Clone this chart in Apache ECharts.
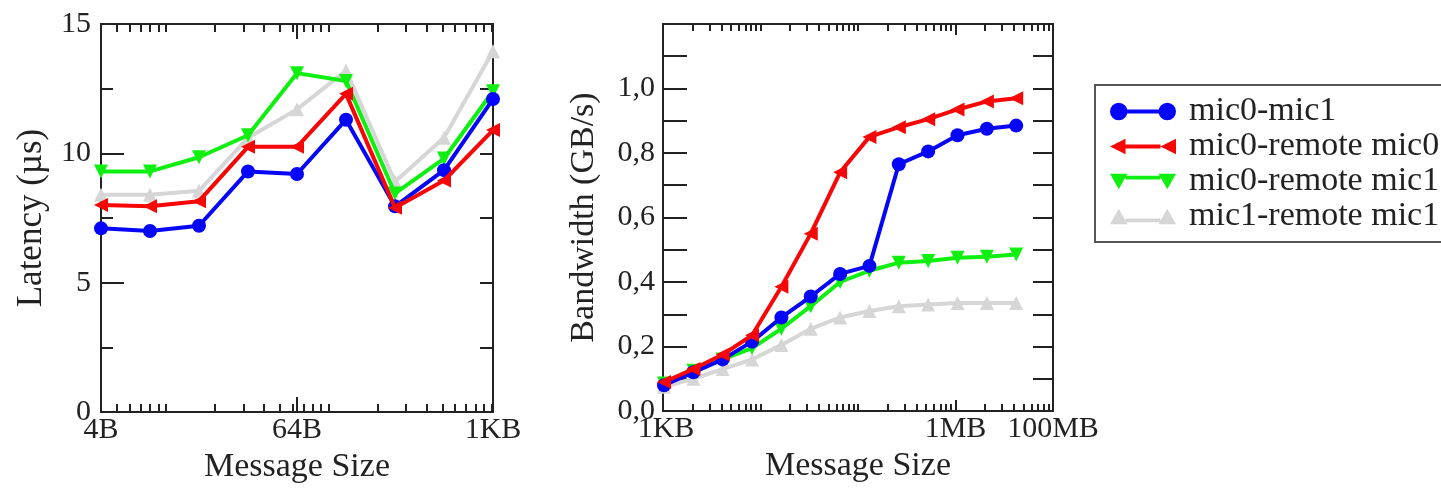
<!DOCTYPE html>
<html><head><meta charset="utf-8">
<script src="https://cdn.jsdelivr.net/npm/echarts@6/dist/echarts.min.js"></script>
<style>html,body{margin:0;padding:0;background:#fff}#c{width:1441px;height:492px}</style>
</head><body><div id="c"></div>
<script>
// ---------- data ----------
const seriesNames = ['mic0-mic1', 'mic0-remote mic0', 'mic0-remote mic1', 'mic1-remote mic1'];

// Latency chart (µs) vs message size in bytes
const latSizes = [4, 8, 16, 32, 64, 128, 256, 512, 1024];
const latMic0Mic1       = [7.1, 7.0, 7.2, 9.3, 9.2, 11.3, 7.95, 9.35, 12.1];
const latMic0RemoteMic0 = [8.0, 7.95, 8.15, 10.25, 10.25, 12.3, 7.9, 8.95, 10.9];
const latMic0RemoteMic1 = [9.3, 9.3, 9.85, 10.7, 13.1, 12.8, 8.45, 9.8, 12.4];
const latMic1RemoteMic1 = [8.4, 8.4, 8.55, 10.6, 11.7, 13.2, 8.9, 10.6, 13.95];

// Bandwidth chart (GB/s) vs message size in bytes
const bwSizes = [1024, 2048, 4096, 8192, 16384, 32768, 65536, 131072, 262144, 524288, 1048576, 2097152, 4194304];
const bwMic0Mic1       = [0.08, 0.12, 0.16, 0.215, 0.29, 0.355, 0.425, 0.45, 0.765, 0.805, 0.855, 0.875, 0.885];
const bwMic0RemoteMic0 = [0.09, 0.13, 0.175, 0.235, 0.385, 0.55, 0.74, 0.85, 0.88, 0.905, 0.935, 0.96, 0.97];
const bwMic0RemoteMic1 = [0.085, 0.125, 0.16, 0.195, 0.255, 0.325, 0.40, 0.435, 0.46, 0.465, 0.475, 0.478, 0.485];
const bwMic1RemoteMic1 = [0.075, 0.10, 0.13, 0.16, 0.205, 0.255, 0.29, 0.31, 0.325, 0.33, 0.335, 0.335, 0.335];

// tick labels
const latTickValues = [4, 64, 1024];
const latTickLabels = ['4B', '64B', '1KB'];
const latMinorTicks = [5,6,7,8,9,10,20,30,40,50,60,70,80,90,100,200,300,400,500,600,700,800,900,1000];
const bwTickValues = [1000, 1000000, 10000000];
const bwTickLabels = ['1KB', '1MB', '100MB'];
const bwMinorTicks = [2e3,3e3,4e3,5e3,6e3,7e3,8e3,9e3,1e4,2e4,3e4,4e4,5e4,6e4,7e4,8e4,9e4,1e5,2e5,3e5,4e5,5e5,6e5,7e5,8e5,9e5,2e6,3e6,4e6,5e6,6e6,7e6,8e6,9e6];
const bwMajorTicks = [1000000];

// ---------- styling ----------
const FONT = "'Liberation Serif','DejaVu Serif',serif";
const TXT = '#222';
const AX = '#222';
const colors = ['#0505f8', '#f80505', '#10f010', '#d6d6d6'];
const symbols = ['circle', 'triangle', 'triangle', 'triangle'];
const rotations = [0, 90, 180, 0];
const zs = [4, 5, 3, 2];

const legendIcons = [
  'path://M0,9 A9,9 0 1 1 18,9 A9,9 0 1 1 0,9 Z M17.5,7 L50.5,7 L50.5,11 L17.5,11 Z M50,9 A9,9 0 1 1 68,9 A9,9 0 1 1 50,9 Z',
  'path://M0,9 L16,1 L16,17 Z M16,7 L52,7 L52,11 L16,11 Z M52,9 L68,1 L68,17 Z',
  'path://M0,1 L18,1 L9,17 Z M16,3 L52,3 L52,7 L16,7 Z M50,1 L68,1 L59,17 Z',
  'path://M0,17 L9,1 L18,17 Z M16,11 L52,11 L52,15 L16,15 Z M50,17 L59,1 L68,17 Z'
];

function labelMap(values, labels) {
  const m = {};
  values.forEach((v, i) => { m[v] = labels[i]; });
  return m;
}
const latLab = labelMap(latTickValues, latTickLabels);
const bwLab = labelMap(bwTickValues, bwTickLabels);
const richBase = {fontSize: 30, fontFamily: FONT, color: TXT};
const rich = {
  n: Object.assign({}, richBase),
  l6: Object.assign({padding: [0, 0, 0, 6]}, richBase)
};

function xAx(grid, base, min, max, pos, opts) {
  return Object.assign({
    type: 'log', logBase: base, gridIndex: grid, min: min, max: max, position: pos,
    axisLine: {show: true, lineStyle: {color: AX, width: 2}},
    axisTick: {show: false},
    axisLabel: {show: false},
    splitLine: {show: false}, minorTick: {show: false}, minorSplitLine: {show: false}
  }, opts);
}
function ticks(vals, len) {
  return {show: true, inside: true, length: len, customValues: vals, lineStyle: {color: AX, width: 2}};
}

const xAxes = [
  // left chart
  xAx(0, 2, 4, 1024, 'bottom', {
    axisTick: ticks([64], 15),
    nameLocation: 'middle', name: 'Message Size', nameGap: 29,
    nameTextStyle: {fontSize: 34, fontFamily: FONT, color: TXT},
    axisLabel: {show: true, customValues: latTickValues, margin: 3,
      fontSize: 30, fontFamily: FONT, color: TXT, showMinLabel: true, showMaxLabel: true,
      formatter: v => latLab[Math.round(v)] || ''}
  }),
  xAx(0, 10, 4, 1024, 'bottom', {axisLine: {show: false}, axisTick: ticks(latMinorTicks, 8)}),
  xAx(0, 2, 4, 1024, 'top', {axisTick: ticks([64], 15)}),
  xAx(0, 10, 4, 1024, 'top', {axisLine: {show: false}, axisTick: ticks(latMinorTicks, 8)}),
  // right chart
  xAx(1, 10, 1000, 10000000, 'bottom', {
    axisTick: ticks(bwMajorTicks, 11),
    nameLocation: 'middle', name: 'Message Size', nameGap: 29,
    nameTextStyle: {fontSize: 34, fontFamily: FONT, color: TXT},
    axisLabel: {show: true, customValues: bwTickValues, margin: 3,
      fontSize: 30, fontFamily: FONT, color: TXT, showMinLabel: true, showMaxLabel: true,
      formatter: v => { const t = bwLab[Math.round(v)]; return t ? '{' + (t === '1KB' ? 'l6' : 'n') + '|' + t + '}' : ''; },
      rich: rich}
  }),
  xAx(1, 10, 1000, 10000000, 'bottom', {axisLine: {show: false}, axisTick: ticks(bwMinorTicks, 7)}),
  xAx(1, 10, 1000, 10000000, 'top', {axisTick: ticks(bwMajorTicks, 11)}),
  xAx(1, 10, 1000, 10000000, 'top', {axisLine: {show: false}, axisTick: ticks(bwMinorTicks, 7)})
];

const yAxes = [
  {type: 'value', gridIndex: 0, position: 'left', min: 0, max: 15, interval: 5,
    axisLine: {show: true, lineStyle: {color: AX, width: 2}},
    axisTick: {show: true, inside: true, length: 23, lineStyle: {color: AX, width: 2}},
    minorTick: {show: true, splitNumber: 2, length: 12, lineStyle: {color: AX, width: 2}},
    splitLine: {show: false}, minorSplitLine: {show: false},
    axisLabel: {fontSize: 30, fontFamily: FONT, color: TXT, margin: 10},
    name: 'Latency (µs)', nameLocation: 'middle', nameGap: 52,
    nameTextStyle: {fontSize: 35, fontFamily: FONT, color: TXT}},
  {type: 'value', gridIndex: 0, position: 'right', min: 0, max: 15, interval: 2.5,
    axisLine: {show: true, lineStyle: {color: AX, width: 2}},
    axisTick: {show: true, inside: true, length: 13, lineStyle: {color: AX, width: 2}},
    splitLine: {show: false}, axisLabel: {show: false}},
  {type: 'value', gridIndex: 1, position: 'left', min: 0, max: 1.2, interval: 0.2,
    axisLine: {show: true, lineStyle: {color: AX, width: 2}},
    axisTick: {show: true, inside: true, length: 24, lineStyle: {color: AX, width: 2}},
    minorTick: {show: true, splitNumber: 2, length: 24, lineStyle: {color: AX, width: 2}},
    splitLine: {show: false}, minorSplitLine: {show: false},
    axisLabel: {fontSize: 30, fontFamily: FONT, color: TXT, margin: 8,
      formatter: v => v > 1.1 ? '' : v.toFixed(1).replace('.', ',')},
    name: 'Bandwidth (GB/s)', nameLocation: 'middle', nameGap: 62,
    nameTextStyle: {fontSize: 34, fontFamily: FONT, color: TXT}},
  {type: 'value', gridIndex: 1, position: 'right', min: 0, max: 1.2, interval: 0.2,
    axisLine: {show: true, lineStyle: {color: AX, width: 2}},
    axisTick: {show: true, inside: true, length: 20, lineStyle: {color: AX, width: 2}},
    minorTick: {show: true, splitNumber: 2, length: 20, lineStyle: {color: AX, width: 2}},
    splitLine: {show: false}, minorSplitLine: {show: false}, axisLabel: {show: false}}
];

function mk(i, sizes, vals, xi, yi) {
  return {
    name: seriesNames[i], type: 'line', xAxisIndex: xi, yAxisIndex: yi,
    data: sizes.map((s, k) => [s, vals[k]]),
    symbol: symbols[i], symbolRotate: rotations[i], symbolSize: 14,
    showSymbol: true, showAllSymbol: true, clip: false, z: zs[i],
    lineStyle: {color: colors[i], width: 4},
    itemStyle: {color: colors[i]},
    emphasis: {disabled: true}, animation: false
  };
}
const latData = [latMic0Mic1, latMic0RemoteMic0, latMic0RemoteMic1, latMic1RemoteMic1];
const bwData = [bwMic0Mic1, bwMic0RemoteMic0, bwMic0RemoteMic1, bwMic1RemoteMic1];
const series = [];
latData.forEach((d, i) => series.push(mk(i, latSizes, d, 0, 0)));
bwData.forEach((d, i) => series.push(mk(i, bwSizes, d, 4, 2)));

const chart = echarts.init(document.getElementById('c'), null, {renderer: 'canvas'});
chart.setOption({
  animation: false,
  backgroundColor: '#fff',
  grid: [
    {left: 101, top: 24, width: 392, height: 388},
    {left: 663, top: 24, width: 390, height: 387}
  ],
  xAxis: xAxes,
  yAxis: yAxes,
  legend: {
    data: seriesNames.map((n, i) => ({name: n, icon: legendIcons[i]})),
    orient: 'vertical', left: 1095, top: 85,
    padding: [9, 14, 8, 15], itemGap: 0, itemWidth: 66, itemHeight: 18,
    borderColor: '#555', borderWidth: 2, borderRadius: 0, backgroundColor: '#fff',
    textStyle: {fontSize: 34, fontFamily: FONT, color: TXT, lineHeight: 35, padding: [0, 0, 0, 8]},
    selectedMode: false
  },
  series: series
});
</script></body></html>
